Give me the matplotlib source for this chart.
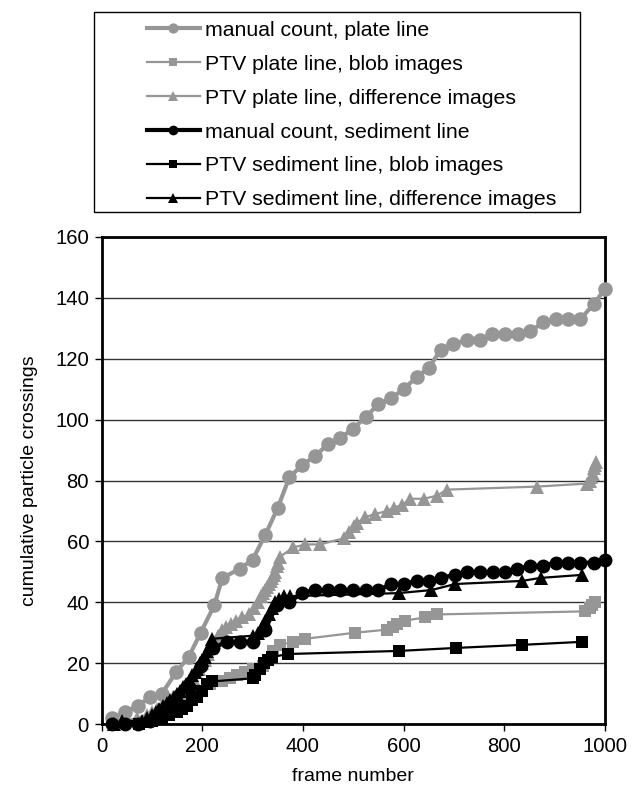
#!/usr/bin/env python3
from __future__ import annotations

import matplotlib

matplotlib.use("Agg")
import matplotlib.pyplot as plt
from matplotlib.patches import Rectangle

# frame numbers / cumulative crossings
plate_manual_x = [20, 47, 73, 97, 120, 148, 173, 197, 224, 240, 275, 300, 325, 350, 373, 398, 424, 450, 474, 500,
                  525, 550, 575, 600, 626, 650, 674, 699, 725, 751, 776, 802, 827, 852, 877, 902, 927, 951, 978, 1000]
plate_manual_y = [2, 4, 6, 9, 10, 17, 22, 30, 39, 48, 51, 54, 62, 71, 81, 85, 88, 92, 94, 97,
                  101, 105, 107, 110, 114, 117, 123, 125, 126, 126, 128, 128, 128, 129, 132, 133, 133, 133, 138, 143]

plate_blob_x = [100, 120, 140, 160, 180, 200, 215, 240, 255, 270, 285, 300, 320, 330, 340, 355, 381, 405, 504, 567,
                578, 587, 603, 643, 666, 960, 970, 975, 980]
plate_blob_y = [2, 4, 6, 8, 10, 11, 13, 14, 15, 16, 17, 18, 19, 21, 24, 26, 27, 28, 30, 31,
                32, 33, 34, 35, 36, 37, 38, 39, 40]

plate_diff_x = [25, 45, 70, 90, 100, 110, 120, 128, 135, 142, 150, 157, 163, 170, 176, 182, 188, 194, 200, 206,
                212, 218, 224, 232, 240, 248, 258, 268, 280, 292, 302, 310, 316, 320, 324, 328, 332, 336, 339, 342,
                345, 348, 351, 355, 381, 405, 434, 481, 491, 501, 507, 524, 544, 567, 580, 597, 613, 640, 666, 686,
                865, 965, 970, 973, 976, 978, 980, 982]
plate_diff_y = [1, 1, 2, 3, 4, 5, 6, 7, 8, 9, 10, 11, 12, 13, 14, 15, 17, 18, 20, 21,
                23, 25, 27, 29, 31, 32, 33, 34, 35, 36, 38, 40, 42, 43, 44, 45, 46, 47, 48, 49,
                50, 52, 53, 55, 58, 59, 59, 61, 63, 65, 66, 68, 69, 70, 71, 72, 74, 74, 75, 77,
                78, 79, 80, 81, 82, 84, 85, 86]

sed_manual_x = [20, 47, 73, 97, 123, 148, 173, 197, 222, 249, 275, 300, 325, 348, 373, 398, 424, 450, 474, 500,
                525, 550, 575, 600, 626, 650, 674, 702, 726, 752, 778, 802, 826, 852, 877, 902, 927, 951, 978, 1000]
sed_manual_y = [0, 0, 0, 1, 4, 7, 12, 19, 25, 27, 27, 27, 31, 39, 40, 43, 44, 44, 44, 44,
                44, 44, 46, 46, 47, 47, 48, 49, 50, 50, 50, 50, 51, 52, 52, 53, 53, 53, 53, 54]

sed_blob_x = [75, 100, 120, 135, 150, 160, 170, 180, 190, 200, 210, 220, 300, 305, 315, 322, 330, 338, 371, 590,
              705, 835, 955]
sed_blob_y = [0, 1, 2, 3, 4, 5, 6, 8, 9, 11, 13, 14, 15, 16, 18, 20, 21, 22, 23, 24, 25, 26, 27]

sed_diff_x = [25, 40, 80, 90, 100, 108, 115, 122, 130, 137, 144, 150, 156, 162, 168, 174, 180, 185, 190, 195,
              200, 205, 210, 215, 220, 300, 310, 318, 325, 332, 338, 345, 352, 362, 375, 590, 655, 703, 835, 872,
              955]
sed_diff_y = [0, 1, 1, 2, 3, 4, 5, 6, 7, 8, 9, 10, 11, 12, 13, 14, 16, 17, 18, 20,
              21, 22, 24, 26, 28, 29, 30, 32, 34, 36, 38, 40, 41, 42, 42, 43, 44, 46, 47, 48,
              49]

labels = [
    "manual count, plate line",
    "PTV plate line, blob images",
    "PTV plate line, difference images",
    "manual count, sediment line",
    "PTV sediment line, blob images",
    "PTV sediment line, difference images",
]

GRAY = "#969696"
W, H = 643, 794

plt.rcParams["font.family"] = ["Liberation Sans", "DejaVu Sans"]

fig = plt.figure(figsize=(W / 100, H / 100), dpi=100)
ax = fig.add_axes([101.5 / W, 1 - 724 / H, 503.5 / W, 487 / H])

series = [
    (plate_manual_x, plate_manual_y, GRAY, "o", 3.0, 10.5),
    (plate_blob_x, plate_blob_y, GRAY, "s", 1.6, 8.5),
    (plate_diff_x, plate_diff_y, GRAY, "^", 1.6, 9.5),
    (sed_manual_x, sed_manual_y, "black", "o", 3.0, 10.0),
    (sed_blob_x, sed_blob_y, "black", "s", 1.6, 8.5),
    (sed_diff_x, sed_diff_y, "black", "^", 1.6, 9.5),
]
handles = []
for (xs, ys, color, marker, lw, ms), label in zip(series, labels):
    (line,) = ax.plot(xs, ys, color=color, marker=marker, linewidth=lw, markersize=ms,
                      markeredgewidth=0, label=label, clip_on=False, zorder=3)
    handles.append(line)

ax.set_xlim(0, 1000)
ax.set_ylim(0, 160)
ax.set_xticks(range(0, 1001, 200))
ax.set_yticks(range(0, 161, 20))
ax.yaxis.grid(True, color="#333333", linewidth=1.0)
ax.set_axisbelow(True)
for spine in ax.spines.values():
    spine.set_linewidth(2.0)
ax.tick_params(direction="out", length=5, width=1, labelsize=14.6, pad=4)
ax.set_xlabel("frame number", fontsize=14, labelpad=9)
ax.set_ylabel("cumulative particle crossings", fontsize=14, labelpad=12)

# legend sits in its own box above the plot
fig.add_artist(Rectangle((94 / W, 1 - 212 / H), 486 / W, 200 / H, transform=fig.transFigure,
                         fill=False, edgecolor="black", linewidth=1.0))
fig.legend(handles, labels, loc="center left", bbox_to_anchor=(147 / W, 1 - 115 / H), frameon=False,
           fontsize=15.3, borderaxespad=0, borderpad=0, handlelength=2.49, handletextpad=0.23,
           labelspacing=0.70, markerscale=0.7)

fig.savefig("out.png", dpi=100)
